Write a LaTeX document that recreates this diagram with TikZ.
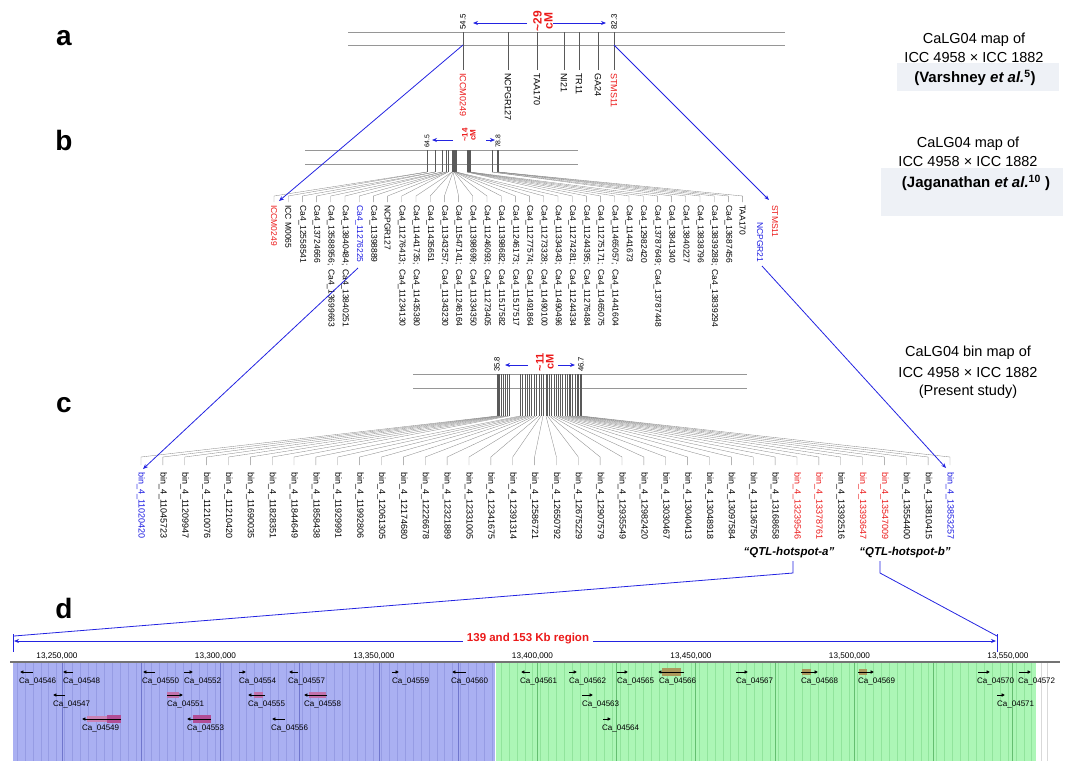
\documentclass[tikz,border=0pt]{standalone}
\usepackage{fontspec}
\setmainfont{Liberation Sans}
\usepackage{tikz}
\usetikzlibrary{arrows.meta}
\usetikzlibrary{positioning}

\definecolor{lred}{RGB}{235,25,25}
\definecolor{lblue}{RGB}{25,25,225}
\definecolor{lnkblue}{RGB}{35,35,225}
\definecolor{mapgray}{RGB}{150,150,150}
\definecolor{boxfill}{RGB}{238,241,246}
\definecolor{regblue}{RGB}{170,176,242}
\definecolor{regbluel}{RGB}{150,156,228}
\definecolor{regblued}{RGB}{112,118,205}
\definecolor{reggreen}{RGB}{172,246,182}
\definecolor{reggreenl}{RGB}{145,228,156}
\definecolor{reggreend}{RGB}{100,190,112}
\definecolor{exonm}{RGB}{178,78,150}
\definecolor{exono}{RGB}{172,152,92}

\newcommand{\fsz}[1]{\fontsize{#1}{#1}\selectfont}

\tikzset{
    tag/.style={ % panel letters
        font=\bfseries\fsz{28},
        inner sep=0pt
        },
    mapln/.style={
        draw=mapgray,
        line width=0.9pt
        },
    tck/.style={
        draw=black!65,
        line width=0.45pt
        },
    fan/.style={
        draw=black!45,
        line width=0.35pt
        },
    lnk/.style={ % zoom links
        draw=lnkblue,
        line width=0.8pt
        },
    lnkarr/.style={
        lnk,
        -{Stealth[length=5pt,width=4pt]}
        },
    mk/.style={ % rotated marker names
        rotate=-90,
        anchor=west,
        inner sep=0pt,
        font=\fsz{8.5}
        },
    mka/.style={
        mk,
        font=\fsz{9}
        },
    binl/.style={
        mk,
        font=\fsz{9}
        },
    posn/.style={ % cM positions
        rotate=90,
        anchor=west,
        inner sep=0pt,
        font=\fsz{8}
        },
    cml/.style={
        rotate=90,
        inner sep=0pt,
        align=center,
        text=lred,
        font=\bfseries\fontsize{11}{10}\selectfont
        },
    ttl/.style={
        inner sep=0pt,
        font=\fsz{14.5}
        },
    ttlb/.style={
        ttl,
        font=\bfseries\fsz{15}
        },
    qtl/.style={
        inner sep=0pt,
        font=\bfseries\itshape\fsz{11.5}
        },
    glab/.style={ % gene names
        anchor=west,
        inner sep=0pt,
        font=\fsz{8}
        },
    rlab/.style={
        inner sep=0pt,
        font=\fsz{8.2}
        },
    gln/.style={
        line width=0.9pt,
        -{Latex[length=3.4pt,width=3.8pt]}
        }
}

\begin{document}
\begin{tikzpicture}[x=1pt,y=-1pt]
\useasboundingbox (0,0) rectangle (1068,761);

%%%%% panel tags
\node[tag] (pa) at (64,38) {a};
\node[tag] (pb) at (64,140) {b};
\node[tag] (pc) at (64,405) {c};
\node[tag] (pd) at (64,608) {d};

%%%%% titles on the right
\fill[boxfill] (897,63) rectangle (1059,91);
\node[ttl] (ta1) at (974,40) {CaLG04 map of};
\node[ttl] (ta2) at (974,58) {ICC 4958 × ICC 1882};
\node[ttlb] (ta3) at (975,78) {(Varshney \textit{et al.}\textsuperscript{5})};
\fill[boxfill] (881,168) rectangle (1063,216);
\node[ttl] (tb1) at (968,144) {CaLG04 map of};
\node[ttl] (tb2) at (968,162) {ICC 4958 × ICC 1882};
\node[ttlb] (tb3) at (976,183) {(Jaganathan \textit{et al.}\textsuperscript{10} )};
\node[ttl] (tc1) at (968,353) {CaLG04 bin map of};
\node[ttl] (tc2) at (968,373) {ICC 4958 × ICC 1882};
\node[ttl] (tc3) at (968,392) {(Present study)};

%%%%% map a
\draw[mapln] (348,32) -- (785,32);
\draw[mapln] (348,45) -- (785,45);
\foreach \xx/\nm/\cl [count=\i] in {463/ICCM0249/lred, 508/NCPGR127/black,
    537/TAA170/black, 564/NI21/black, 579/TR11/black, 598/GA24/black,
    614/STMS11/lred}{
  \draw[tck] (\xx,32) -- (\xx,70);
  \node[mka, text=\cl] (am\i) at (\xx,73) {\nm};
}
\node[posn] (a1) at (463,30) {54.5};
\node[posn] (a2) at (614,30) {82.3};
\node[cml, font=\bfseries\fontsize{12}{11}\selectfont] (acm) at (543,21) {\textasciitilde29\\cM};
\coordinate (acmL) at (527,23);
\coordinate (acmR) at (553,23);
\draw[lnkarr] (acmL) -- (473,23);
\draw[lnkarr] (acmR) -- (606,23);

%%%%% map b
\draw[mapln] (305,150) -- (578,150);
\draw[mapln] (305,164) -- (578,164);
\foreach \ta/\tb/\tg/\cl [count=\i from 0] in {
    ICCM0249/{}/427/lred,
    ICC M0065/{}/427/black,
    Ca4\_12558541/{}/435/black,
    Ca4\_13724666/{}/435/black,
    Ca4\_13588956;/Ca4\_13699663/442/black,
    Ca4\_13840484;/Ca4\_13840251/442/black,
    Ca4\_11276225/{}/446/lblue,
    Ca4\_11398889/{}/446/black,
    NCPGR127/{}/448/black,
    Ca4\_11276413;/Ca4\_11234130/448/black,
    Ca4\_11441735;/Ca4\_11435380/452/black,
    Ca4\_11435651/{}/452/black,
    Ca4\_11343257;/Ca4\_11343230/453/black,
    Ca4\_11547141;/Ca4\_11246164/453/black,
    Ca4\_11398699;/Ca4\_11334350/454/black,
    Ca4\_11246093;/Ca4\_11273405/454/black,
    Ca4\_11398682;/Ca4\_11517582/455/black,
    Ca4\_11246173;/Ca4\_11517517/455/black,
    Ca4\_11277574;/Ca4\_11491864/456/black,
    Ca4\_11273328;/Ca4\_11490100/456/black,
    Ca4\_11334343;/Ca4\_11490496/456/black,
    Ca4\_11274281;/Ca4\_11244334/467/black,
    Ca4\_11244395;/Ca4\_11276484/467/black,
    Ca4\_11275171;/Ca4\_11465075/468/black,
    Ca4\_11465057;/Ca4\_11441604/468/black,
    Ca4\_11441673/{}/469/black,
    Ca4\_12982420/{}/469/black,
    Ca4\_13787649;/Ca4\_13787448/470/black,
    Ca4\_13841340/{}/492/black,
    Ca4\_13840227/{}/492/black,
    Ca4\_13838796/{}/497/black,
    Ca4\_13839288;/Ca4\_13839294/497/black,
    Ca4\_13687456/{}/498/black,
    TAA170/{}/498/black}{
  \pgfmathsetmacro\xx{274+14.2*\i}
  \draw[tck] (\tg,150) -- (\tg,172);
  \draw[fan] (\tg,172) -- (\xx,196) -- (\xx,202);
  \node[mk, text=\cl] (bt\i) at (\xx,205) {\ta};
  \node[mk] (bs\i) at (\xx,269) {\tb};
}
\node[mk, text=lred] (bstms) at (775,205) {STMS11};
\node[mk, text=lblue] (bncp) at (760,222) {NCPGR21};
\node[posn, font=\fsz{6.8}] (b1) at (427,148) {64.5};
\node[posn, font=\fsz{6.8}] (b2) at (498,148) {78.8};
\node[cml, font=\bfseries\fontsize{8}{8}\selectfont] (bcm) at (469,135) {\textasciitilde14\\cM};
\coordinate (bcmL) at (453,140);
\coordinate (bcmR) at (486,140);
\draw[lnkarr] (bcmL) -- (432,140);
\draw[lnkarr] (bcmR) -- (495,140);

%%%%% links a -> b
\coordinate (aLo) at (463,45);
\coordinate (aHi) at (614,45);
\coordinate (bIn1) at (279,201);
\coordinate (bIn2) at (769,200);
\draw[lnkarr] (aLo) -- (bIn1);
\draw[lnkarr] (aHi) -- (bIn2);

%%%%% map c
\draw[mapln] (413,374) -- (747,374);
\draw[mapln] (413,388) -- (747,388);
\foreach \nb/\tk/\cl [count=\i from 0] in {
    11020420/497/lblue, 11045723/498/black, 11209947/499.5/black,
    11210076/501/black, 11210420/503/black, 11690035/505/black,
    11828351/507/black, 11844649/509/black, 11858438/520/black,
    11929991/522.5/black, 11992806/525/black, 12061305/527/black,
    12174680/529/black, 12226678/531.5/black, 12321889/534/black,
    12331005/536/black, 12341675/539/black, 12391314/541/black,
    12586721/543/black, 12650792/546/black, 12675229/547.5/black,
    12907579/549.5/black, 12935549/551.5/black, 12982420/554/black,
    13030467/556.5/black, 13040413/558/black, 13048918/560/black,
    13097584/562.5/black, 13136756/565/black, 13168658/567/black,
    13239546/569/lred, 13378761/570.5/lred, 13392516/572.5/black,
    13393647/575/lred, 13547009/577/lred, 13554400/578.5/black,
    13810415/580/black, 13853257/581/lblue}{
  \pgfmathsetmacro\xx{141+21.865*\i}
  \draw[tck] (\tk,374) -- (\tk,416);
  \draw[fan] (\tk,416) -- (\xx,457) -- (\xx,465);
  \node[binl, text=\cl] (cb\i) at (\xx,472) {bin\_4\_\nb};
}
\node[posn, font=\fsz{7.7}] (c1) at (497,372) {35.8};
\node[posn, font=\fsz{7.7}] (c2) at (581,372) {46.7};
\node[cml] (ccm) at (545,362) {\textasciitilde11\\cM};
\coordinate (ccmL) at (528,365);
\coordinate (ccmR) at (558,365);
\draw[lnkarr] (ccmL) -- (505,365);
\draw[lnkarr] (ccmR) -- (575,365);

%%%%% links b -> c
\coordinate (bLo) at (358,268);
\coordinate (bHi) at (762,266);
\coordinate (cIn1) at (143,469);
\coordinate (cIn2) at (946,468);
\draw[lnkarr] (bLo) -- (cIn1);
\draw[lnkarr] (bHi) -- (cIn2);

%%%%% hotspots
\node[qtl] (qa) at (789,553) {“QTL-hotspot-a”};
\node[qtl] (qb) at (905,553) {“QTL-hotspot-b”};
\coordinate (qaT) at (793,561);
\coordinate (qbT) at (880,561);
\coordinate (dL) at (14,636);
\coordinate (dR) at (997,636);
\draw[lnk] (qaT) -- (793,573) -- (dL);
\draw[lnk] (qbT) -- (880,573) -- (dR);

%%%%% region d
\fill[regblue] (13,663) rectangle (495,761);
\fill[reggreen] (496,663) rectangle (1036,761);
\foreach \k in {0,...,60}{
  \draw[regbluel, line width=0.4pt] (17+7.92*\k,663) -- (17+7.92*\k,761);
}
\foreach \k in {0,...,67}{
  \draw[reggreenl, line width=0.4pt] (501+7.92*\k,663) -- (501+7.92*\k,761);
}
\foreach \k in {0,...,5}{
  \draw[regblued, line width=0.6pt] (62+79.2*\k,663) -- (62+79.2*\k,761);
}
\foreach \k in {6,...,12}{
  \draw[reggreend, line width=0.6pt] (62+79.2*\k,663) -- (62+79.2*\k,761);
}
\draw[black!15, line width=0.4pt] (1041,663) -- (1041,761);
\draw[black!15, line width=0.4pt] (1047,663) -- (1047,761);
\draw[black!55, line width=1.4pt] (10,662) -- (1060,662);
\foreach \lb/\xx [count=\k] in {{13,250,000}/57, {13,300,000}/215.5, {13,350,000}/374,
    {13,400,000}/532.5, {13,450,000}/691, {13,500,000}/849.5, {13,550,000}/1008}{
  \node[rlab] (rl\k) at (\xx,656) {\lb};
}

%%%%% span arrow
\node[inner sep=0pt, text=lred, font=\bfseries\fsz{11.5}] (span) at (528,639) {139 and 153 Kb region};
\draw[lnk] (13,634) -- (13,652);
\draw[lnk] (997,634) -- (997,652);
\draw[lnkarr] (span.west) ++(-4,2) -- (14,641);
\draw[lnkarr] (span.east) ++(4,2) -- (996,641);

%%%%% exons
\fill[exonm!70] (87,716) rectangle (107,722);
\fill[exonm] (107,715) rectangle (121,723);
\fill[exonm!80] (167,692) rectangle (179,698);
\fill[exonm] (193,715) rectangle (211,723);
\fill[exonm!80] (254,692) rectangle (263,698);
\fill[exonm!80] (309,692) rectangle (326,698);
\fill[exono] (662,668) rectangle (681,676);
\fill[exono] (802,669) rectangle (811,675);
\fill[exono] (859,669) rectangle (867,675);

%%%%% genes
\foreach \xa/\xb/\yy/\lx/\nm in {
    33/20/672/19/04546, 73/63/672/63/04548, 65/53/695/53/04547,
    121/82/719/82/04549, 155/143/672/142/04550, 184/193/672/184/04552,
    167/183/695/167/04551, 211/187/719/187/04553, 239/246/672/239/04554,
    265/248/695/248/04555, 298/289/672/288/04557, 285/272/719/271/04556,
    327/304/695/304/04558, 392/399/672/392/04559, 466/452/672/451/04560,
    530/521/672/520/04561, 569/577/672/569/04562, 617/628/672/617/04565,
    684/658/672/659/04566, 582/593/695/582/04563, 603/611/719/602/04564,
    736/748/672/736/04567, 801/818/672/801/04568, 858/874/672/858/04569,
    978/990/672/977/04570, 1019/1031/672/1018/04572, 997/1005/695/997/04571}{
  \draw[gln] (\xa,\yy) -- (\xb,\yy);
  \node[glab] (g\nm) at (\lx,\yy+9) {Ca\_\nm};
}

\end{tikzpicture}
\end{document}
